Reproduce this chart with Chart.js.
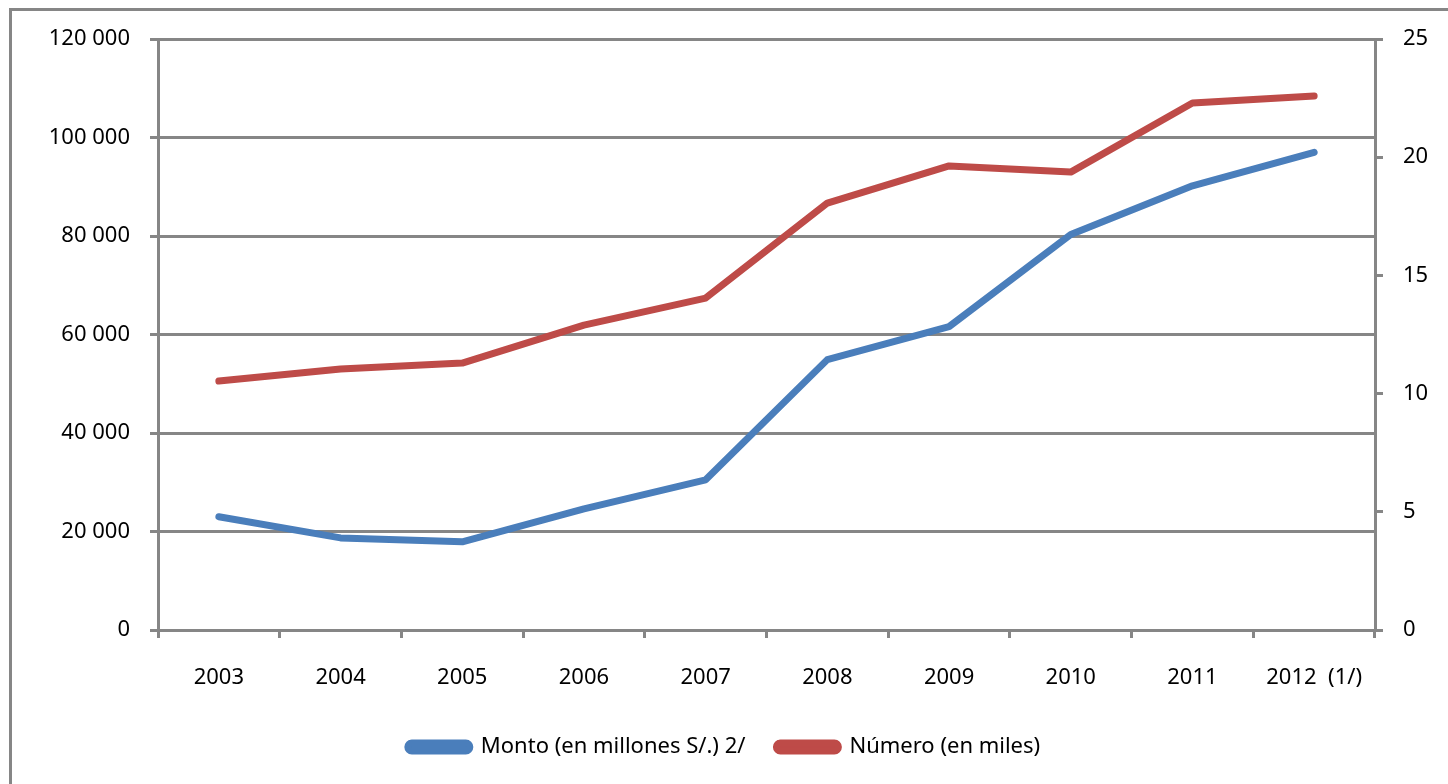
<!DOCTYPE html>
<html>
<head>
<meta charset="utf-8">
<script src="https://cdn.jsdelivr.net/npm/chart.js@4"></script>
<style>
  html, body { margin: 0; padding: 0; background: #fff; }
  #wrap { width: 1448px; height: 784px; position: relative; }
</style>
</head>
<body>
<div id="wrap"><canvas id="c" width="1448" height="784"></canvas></div>
<script>
const categories = ["2003", "2004", "2005", "2006", "2007", "2008", "2009", "2010", "2011", "2012  (1/)"];
const montoValues = [23000, 18700, 17900, 24600, 30500, 54900, 61600, 80300, 90200, 97000];
const numeroValues = [10.53, 11.04, 11.29, 12.9, 14.04, 18.06, 19.63, 19.37, 22.29, 22.59];
const seriesNames = ["Monto (en millones S/.) 2/", "Número (en miles)"];

const GRID = "#868686";
const FONT = { family: "'Noto Sans', 'Open Sans', sans-serif", size: 22 };

const frame = {
  id: "frame",
  beforeDraw(chart) {
    const ctx = chart.ctx;
    ctx.save();
    ctx.fillStyle = "#fff";
    ctx.fillRect(0, 0, chart.width, chart.height);
    ctx.strokeStyle = GRID;
    ctx.lineWidth = 3;
    ctx.beginPath();
    ctx.moveTo(10.5, chart.height + 5);
    ctx.lineTo(10.5, 9.5);
    ctx.lineTo(chart.width + 5, 9.5);
    ctx.stroke();
    ctx.restore();
  }
};

new Chart(document.getElementById("c"), {
  type: "line",
  data: {
    labels: categories,
    datasets: [
      {
        label: seriesNames[0],
        data: montoValues,
        yAxisID: "y",
        borderColor: "#4A7EBB",
        backgroundColor: "#4A7EBB",
        borderWidth: 7,
        pointRadius: 0,
        borderCapStyle: "round",
        borderJoinStyle: "round",
        tension: 0
      },
      {
        label: seriesNames[1],
        data: numeroValues,
        yAxisID: "y1",
        borderColor: "#BE4B48",
        backgroundColor: "#BE4B48",
        borderWidth: 7,
        pointRadius: 0,
        borderCapStyle: "round",
        borderJoinStyle: "round",
        tension: 0
      }
    ]
  },
  options: {
    responsive: false,
    animation: false,
    devicePixelRatio: 1,
    layout: { padding: { top: 39, left: 0, right: 0, bottom: 16 } },
    plugins: {
      tooltip: { enabled: false },
      legend: {
        position: "bottom",
        labels: {
          color: "#000",
          font: FONT,
          boxWidth: 62,
          boxHeight: 8,
          useBorderRadius: true,
          borderRadius: 4,
          padding: 31
        }
      }
    },
    scales: {
      x: {
        offset: true,
        grid: { display: true, drawOnChartArea: false, drawTicks: true, tickLength: 8, offset: true, color: GRID, lineWidth: 3 },
        border: { display: true, color: GRID, width: 3 },
        ticks: { color: "#000", font: FONT, padding: 27, maxRotation: 0, autoSkip: false },
        afterFit(s) { s.height = 75; }
      },
      y: {
        position: "left",
        min: 0, max: 120000,
        ticks: {
          stepSize: 20000, color: "#000", font: FONT, padding: 20,
          callback: v => String(v).replace(/\B(?=(\d{3})+(?!\d))/g, " ")
        },
        grid: { color: GRID, lineWidth: 3, tickLength: 8 },
        border: { display: true, color: GRID, width: 3 },
        afterFit(s) { s.width = 158; }
      },
      y1: {
        position: "right",
        min: 0, max: 25,
        ticks: { stepSize: 5, color: "#000", font: FONT, padding: 20 },
        grid: { drawOnChartArea: false, drawTicks: true, tickLength: 8, color: GRID, lineWidth: 3 },
        border: { display: true, color: GRID, width: 3 },
        afterFit(s) { s.width = 73; }
      }
    }
  },
  plugins: [frame]
});
</script>
</body>
</html>
